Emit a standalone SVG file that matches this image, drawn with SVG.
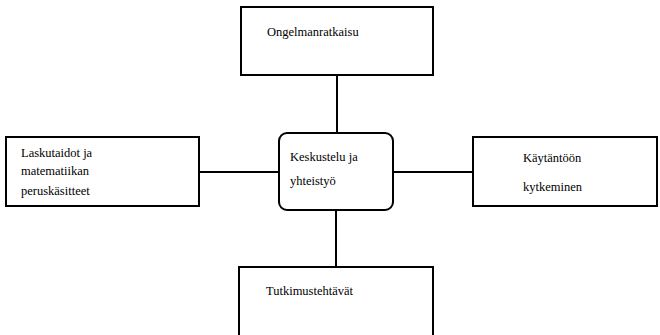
<svg xmlns="http://www.w3.org/2000/svg" width="660" height="335" viewBox="0 0 660 335">
<style>
.box{fill:#fff;stroke:#000;stroke-width:2}
.ln{stroke:#000;stroke-width:2;fill:none}
</style>
<rect width="660" height="335" fill="#fff"/>
<g id="connectors">
<line class="ln" x1="337" y1="75" x2="337" y2="133"/>
<line class="ln" x1="199" y1="172" x2="279" y2="172"/>
<line class="ln" x1="393" y1="172" x2="473" y2="172"/>
<line class="ln" x1="336" y1="210" x2="336" y2="267"/>
</g>
<g font-family="Liberation Serif, serif" font-size="12.5" fill="#000">
<g id="top">
<rect class="box" x="241" y="7" width="192" height="68"/>
<text x="267" y="36">Ongelmanratkaisu</text>
</g>
<g id="left">
<rect class="box" x="6" y="137" width="193" height="69"/>
<text x="21" y="157">Laskutaidot ja</text>
<text x="21" y="175">matematiikan</text>
<text x="21" y="195">peruskäsitteet</text>
</g>
<g id="center">
<rect class="box" x="279" y="133" width="114" height="77" rx="8"/>
<text x="290" y="161">Keskustelu ja</text>
<text x="290" y="185">yhteistyö</text>
</g>
<g id="right">
<rect class="box" x="473" y="137" width="184" height="69"/>
<text x="523" y="162">Käytäntöön</text>
<text x="523" y="191">kytkeminen</text>
</g>
<g id="bottom">
<path class="ln" d="M239,336 V267 H433 V336"/>
<text x="266" y="295">Tutkimustehtävät</text>
</g>
</g>
</svg>
